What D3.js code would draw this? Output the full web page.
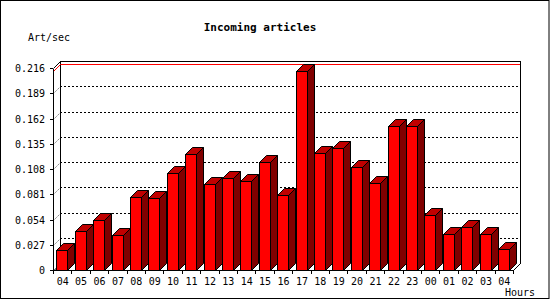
<!DOCTYPE html>
<html>
<head>
<meta charset="utf-8">
<script src="https://cdn.jsdelivr.net/npm/d3@7"></script>
<style>
  html, body { margin: 0; padding: 0; background: #fff; }
  svg { display: block; }
  text { font-family: "DejaVu Sans Mono", "Liberation Mono", monospace; fill: #000; }
</style>
</head>
<body>
<svg id="chart" width="550" height="300"></svg>
<script>
const title = "Incoming articles";
const yAxisTitle = "Art/sec";
const xAxisTitle = "Hours";
const hours = ["04","05","06","07","08","09","10","11","12","13","14","15","16","17","18","19","20","21","22","23","00","01","02","03","04"];
const rates = [0.0214,0.0417,0.0538,0.0374,0.0780,0.0775,0.1034,0.1237,0.0916,0.0980,0.0948,0.1151,0.0799,0.2128,0.1248,0.1301,0.1098,0.0927,0.1537,0.1537,0.0585,0.0388,0.0456,0.0381,0.0221];
const yTicks = [0, 0.027, 0.054, 0.081, 0.108, 0.135, 0.162, 0.189, 0.216];
const yMax = 0.216;

(function () {
const svg = d3.select("#chart");
const D = 7;            // 3D depth
const pL = 53, pR = 513, pB = 270, pT = 68;

const x = d3.scaleBand().domain(d3.range(hours.length)).range([pL, pR]).padding(0);
const y = d3.scaleLinear().domain([0, yMax]).range([pB, pT]);

// outer border
svg.append("rect").attr("x", 0.5).attr("y", 0.5).attr("width", 548.5).attr("height", 298)
  .attr("fill", "#fff").attr("stroke", "#000");

// title texts
svg.append("text").attr("x", 260).attr("y", 27).attr("text-anchor", "middle")
  .attr("dominant-baseline", "central").attr("font-size", 11).attr("font-weight", "bold").text(title);
svg.append("text").attr("x", 28).attr("y", 37).attr("dominant-baseline", "central")
  .attr("font-size", 10).text(yAxisTitle);
svg.append("text").attr("x", 505).attr("y", 292).attr("dominant-baseline", "central")
  .attr("font-size", 10).text(xAxisTitle);

const g = svg.append("g").attr("shape-rendering", "crispEdges");
const yb = v => Math.round(y(v)) - D;   // back plane y
const L = (x1, y1, x2, y2) => g.append("line").attr("x1", x1).attr("y1", y1).attr("x2", x2).attr("y2", y2)
  .attr("stroke", "#000").attr("stroke-width", 1);

// grid lines on back plane (dotted) + diagonal connectors
yTicks.filter(t => t > 0 && t < yMax).forEach(t => {
  const yy = yb(t) + 0.5;
  L(pL + D, yy, pR + D, yy).attr("stroke-dasharray", "2,2");
  g.append("line").attr("x1", pL + 0.5).attr("y1", Math.round(y(t)) + 0.5)
    .attr("x2", pL + D + 0.5).attr("y2", yy).attr("stroke", "#000").attr("stroke-dasharray", "1,2")
    .attr("shape-rendering", "auto");
});

// back plane frame
L(pL + D + 0.5, yb(yMax) + 0.5, pL + D + 0.5, yb(0) + 0.5);
L(pL + D, yb(yMax) + 0.5, pR + D + 1, yb(yMax) + 0.5);
L(pR + D + 0.5, yb(yMax) + 0.5, pR + D + 0.5, yb(0) + 0.5);
g.append("line").attr("x1", pR + D + 0.5).attr("y1", yb(0) + 0.5).attr("x2", pR + 0.5).attr("y2", pB + 0.5)
  .attr("stroke", "#000").attr("shape-rendering", "auto");

// max line (red)
const maxV = d3.max(rates);
g.append("polyline")
  .attr("points", `${pL + 0.5},${Math.round(y(maxV)) + 0.5} ${pL + D + 0.5},${yb(maxV) + 0.5} ${pR + D},${yb(maxV) + 0.5}`)
  .attr("fill", "none").attr("stroke", "#f00").attr("shape-rendering", "auto");

// small floor triangle at the left
g.append("polygon").attr("points", `${pL},${pB} ${pL + 3},${pB - 3} ${pL + 3},${pB}`).attr("fill", "#808080");

// bars
const off = 3.3, bw = 11;
rates.forEach((v, i) => {
  const x0 = Math.round(x(i) + off) + 0.5;
  const x1 = x0 + bw;
  const yt = Math.round(y(v)) + 0.5;
  const yB = pB + 0.5;
  const bar = g.append("g");
  bar.append("polygon").attr("points", `${x0},${yB} ${x1},${yB} ${x1 + D},${yB - D} ${x0 + D},${yB - D}`)
    .attr("fill", "#808080");
  bar.append("polygon").attr("points", `${x1},${yt} ${x1 + D},${yt - D} ${x1 + D},${yB - D} ${x1},${yB}`)
    .attr("fill", "#800000").attr("stroke", "#000").attr("shape-rendering", "auto");
  bar.append("polygon").attr("points", `${x0},${yt} ${x0 + D},${yt - D} ${x1 + D},${yt - D} ${x1},${yt}`)
    .attr("fill", "#c00000").attr("stroke", "#000").attr("shape-rendering", "auto");
  bar.append("rect").attr("x", x0).attr("y", yt).attr("width", bw).attr("height", yB - yt)
    .attr("fill", "#f00").attr("stroke", "#000");
});

// front axes
L(pL + 0.5, Math.round(y(yMax)) + 0.5, pL + 0.5, pB + 0.5);
g.append("line").attr("x1", pL + 0.5).attr("y1", Math.round(y(yMax)) + 0.5).attr("x2", pL + D + 0.5).attr("y2", yb(yMax) + 0.5)
  .attr("stroke", "#000").attr("shape-rendering", "auto");
L(pL, pB + 0.5, pR + 1, pB + 0.5);

// y ticks + labels
yTicks.forEach(t => {
  const yy = Math.round(y(t)) + 0.5;
  L(pL - 3, yy, pL, yy);
  svg.append("text").attr("x", 45).attr("y", yy).attr("text-anchor", "end")
    .attr("dominant-baseline", "central").attr("font-size", 10).text(String(t));
});

// x ticks + labels
d3.range(hours.length + 1).forEach(i => {
  const xx = Math.round(pL + i * x.bandwidth()) + 0.5;
  L(xx, pB, xx, pB + 4);
});
hours.forEach((h, i) => {
  svg.append("text").attr("x", x(i) + x.bandwidth() / 2 + 0.5).attr("y", 281).attr("text-anchor", "middle")
    .attr("dominant-baseline", "central").attr("font-size", 10).text(h);
});
})();
</script>
</body>
</html>
